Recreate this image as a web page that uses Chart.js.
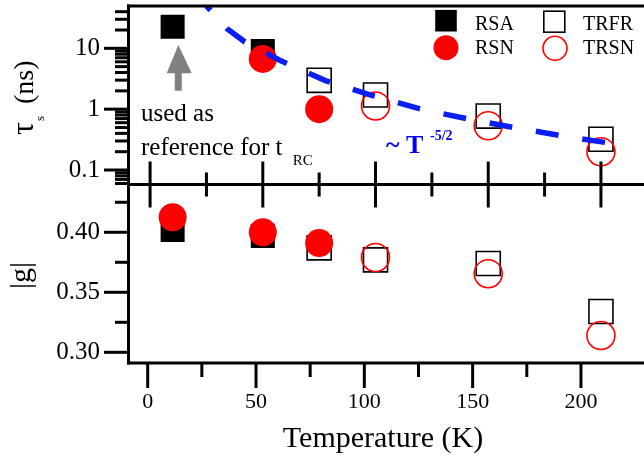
<!DOCTYPE html>
<html>
<head>
<meta charset="utf-8">
<script src="https://cdn.jsdelivr.net/npm/chart.js@4.4.1/dist/chart.umd.min.js"></script>
<style>
  html, body { margin: 0; padding: 0; background: #fff; overflow: hidden; }
  #wrap { width: 644px; height: 459px; }
</style>
</head>
<body>
<div id="wrap"><canvas id="spinChart" width="644" height="459"></canvas></div>
<script>
/*========================== Data ===================================================*/
const xTicks = [0, 50, 100, 150, 200]
const xMinor = [25, 75, 125, 175]
const tauTicks = [0.1, 1, 10]
const tauMinor = [0.06, 0.07, 0.08, 0.09, 0.2, 0.3, 0.4, 0.5, 0.6, 0.7, 0.8, 0.9,
                  2, 3, 4, 5, 6, 7, 8, 9, 20, 30, 40]
const gTicks = [0.30, 0.35, 0.40]
const gMinor = [0.325, 0.375, 0.425]

// top panel: tau_s (ns)
const tauT_RSA = [10, 50]
const tauRSA = [22.6, 9.0]
const tauT_RSN = [50, 75]
const tauRSN = [6.7, 1.0]
const tauT_TRFR = [75, 100, 150, 200]
const tauTRFR = [2.98, 1.71, 0.77, 0.32]
const tauT_TRSN = [100, 150, 200]
const tauTRSN = [1.13, 0.535, 0.20]

// dashed ~T^-5/2 guide, points read along the dashes
const fitT = [25, 34, 42, 57.3, 78, 98.3, 119.7, 141.6, 162.6, 184.1, 211.5]
const fitTau = [49.6, 21.3, 12.8, 6.42, 2.92, 1.69, 1.01, 0.684, 0.49, 0.358, 0.251]

// bottom panel: |g|
const gT_RSA = [10, 50]
const gRSA = [0.402, 0.397]
const gT_RSN = [10, 50, 75]
const gRSN = [0.4125, 0.400, 0.391]
const gT_TRFR = [75, 100, 150, 200]
const gTRFR = [0.387, 0.377, 0.374, 0.334]
const gT_TRSN = [100, 150, 200]
const gTRSN = [0.379, 0.3655, 0.314]

/*========================== Helpers =============================*/
const pts = (xs, ys) => xs.map((x, i) => ({x: x, y: ys[i]}))
const serif = '"Liberation Serif", "Times New Roman", serif'
Chart.defaults.font.family = serif
Chart.defaults.color = '#000'

const styleRSA = {pointStyle: 'rect', pointRadius: 17, backgroundColor: '#000', borderColor: '#000', borderWidth: 0, order: 2}
const styleTRFR = {pointStyle: 'rect', pointRadius: 17, backgroundColor: 'rgba(0,0,0,0)', borderColor: '#000', borderWidth: 1.6, order: 2}
const styleRSN = {pointStyle: 'circle', pointRadius: 14, backgroundColor: '#ff0000', borderColor: '#ff0000', borderWidth: 0, order: 1}
const styleTRSN = {pointStyle: 'circle', pointRadius: 14, backgroundColor: 'rgba(0,0,0,0)', borderColor: '#ff0000', borderWidth: 1.6, order: 1}

const hiddenTicks = {
    grid: {display: false},
    border: {display: false},
    ticks: {display: false}
}

/*========================== Frame, ticks, labels, legend =============================*/
const framePlugin = {
    id: 'frame',
    afterDraw(chart) {
        const ctx = chart.ctx
        const {left, right, top, bottom} = chart.chartArea
        const xs = chart.scales.x, xb = chart.scales.xb
        const yt = chart.scales.ytau, yg = chart.scales.yg
        const mid = yt.bottom
        const seg = (x1, y1, x2, y2) => { ctx.beginPath(); ctx.moveTo(x1, y1); ctx.lineTo(x2, y2); ctx.stroke() }
        const font = (px, w) => (w ? w + ' ' : '') + px + 'px ' + serif

        ctx.save()
        ctx.strokeStyle = '#000'
        ctx.lineWidth = 3
        // frame
        seg(left - 1, top, right, top)
        seg(left - 1, mid, right, mid)
        seg(left - 1, bottom, right, bottom)
        seg(left + 0.5, top - 1.5, left + 0.5, bottom + 1.5)

        // x ticks on the middle line (both sides)
        xTicks.forEach(v => { const p = xs.getPixelForValue(v); seg(p, mid - 23, p, mid + 23) })
        xMinor.forEach(v => { const p = xs.getPixelForValue(v); seg(p, mid - 12, p, mid + 12) })
        // x ticks on the bottom axis
        xTicks.forEach(v => { const p = xb.getPixelForValue(v); seg(p, bottom, p, bottom + 25) })
        xMinor.forEach(v => { const p = xb.getPixelForValue(v); seg(p, bottom, p, bottom + 14) })
        // y ticks
        tauTicks.forEach(v => { const p = yt.getPixelForValue(v); seg(left - 24, p, left, p) })
        tauMinor.forEach(v => { const p = yt.getPixelForValue(v); seg(left - 13, p, left, p) })
        gTicks.forEach(v => { const p = yg.getPixelForValue(v); seg(left - 24, p, left, p) })
        gMinor.forEach(v => { const p = yg.getPixelForValue(v); seg(left - 13, p, left, p) })

        ctx.fillStyle = '#000'
        // tick labels
        ctx.textAlign = 'right'
        ctx.textBaseline = 'middle'
        ctx.font = font(25)
        tauTicks.forEach(v => ctx.fillText(String(v), left - 28, yt.getPixelForValue(v)))
        gTicks.forEach(v => ctx.fillText(v.toFixed(2), left - 28, yg.getPixelForValue(v)))
        ctx.textAlign = 'center'
        ctx.textBaseline = 'alphabetic'
        ctx.font = font(22)
        xTicks.forEach(v => ctx.fillText(String(v), xb.getPixelForValue(v), 408.3))

        // x title
        ctx.font = font(30)
        ctx.fillText('Temperature (K)', 383, 446.5)

        // y title top: tau_s (ns)
        ctx.save()
        ctx.translate(33, 135)
        ctx.rotate(-Math.PI / 2)
        ctx.textAlign = 'left'
        ctx.font = font(32)
        ctx.fillText('\u03c4', 0, 0)
        ctx.font = font(13)
        ctx.fillText('s', 14, 11)
        ctx.font = font(28)
        ctx.fillText('(ns)', 31, 0)
        ctx.restore()

        // y title bottom: |g|
        ctx.save()
        ctx.translate(30, 275.5)
        ctx.rotate(-Math.PI / 2)
        ctx.textAlign = 'center'
        ctx.font = font(30)
        ctx.fillText('|g|', 0, 0)
        ctx.restore()

        // legend
        ctx.textAlign = 'left'
        ctx.font = font(20)
        ctx.fillRect(446 - 10.8, 20.7 - 10.8, 21.6, 21.6)
        ctx.fillText('RSA', 475, 30)
        ctx.lineWidth = 1.6
        ctx.strokeRect(554.3 - 10.5, 21.7 - 10.5, 21, 21)
        ctx.fillText('TRFR', 583, 30)
        ctx.fillStyle = '#ff0000'
        ctx.beginPath(); ctx.arc(446, 47.7, 12.5, 0, Math.PI * 2); ctx.fill()
        ctx.strokeStyle = '#ff0000'
        ctx.beginPath(); ctx.arc(555, 48.3, 12, 0, Math.PI * 2); ctx.stroke()
        ctx.fillStyle = '#000'
        ctx.fillText('RSN', 475, 53.5)
        ctx.fillText('TRSN', 583, 53.5)

        // annotation + grey arrow
        ctx.fillStyle = '#808080'
        ctx.beginPath()
        ctx.moveTo(178.3, 45)
        ctx.lineTo(191.7, 73.3)
        ctx.lineTo(181.8, 73.3)
        ctx.lineTo(181.8, 90.7)
        ctx.lineTo(174.8, 90.7)
        ctx.lineTo(174.8, 73.3)
        ctx.lineTo(166.7, 73.3)
        ctx.closePath()
        ctx.fill()
        ctx.fillStyle = '#000'
        ctx.font = font(25)
        ctx.fillText('used as', 141, 120.7)
        ctx.fillText('reference for t', 141, 155)
        ctx.font = font(15)
        ctx.fillText('RC', 292.7, 165)

        // power-law label
        ctx.fillStyle = '#0000ff'
        ctx.font = font(26, 'bold')
        ctx.fillText('~ T', 386, 152.7)
        ctx.font = font(14, 'bold')
        ctx.fillText('-5/2', 430, 139.5)
        ctx.restore()
    }
}

/*========================== Chart =============================*/
const dataSpin = {
    datasets: [
        {label: 'fit', data: pts(fitT, fitTau), yAxisID: 'ytau', showLine: true, pointRadius: 0,
         borderColor: '#0a1ef5', borderWidth: 5.5, borderDash: [23, 24], borderDashOffset: 17, order: 0},
        Object.assign({label: 'RSA', data: pts(tauT_RSA, tauRSA), yAxisID: 'ytau'}, styleRSA),
        Object.assign({label: 'RSN', data: pts(tauT_RSN, tauRSN), yAxisID: 'ytau'}, styleRSN),
        Object.assign({label: 'TRFR', data: pts(tauT_TRFR, tauTRFR), yAxisID: 'ytau'}, styleTRFR),
        Object.assign({label: 'TRSN', data: pts(tauT_TRSN, tauTRSN), yAxisID: 'ytau'}, styleTRSN),
        Object.assign({label: 'RSA', data: pts(gT_RSA, gRSA), yAxisID: 'yg'}, styleRSA),
        Object.assign({label: 'RSN', data: pts(gT_RSN, gRSN), yAxisID: 'yg'}, styleRSN),
        Object.assign({label: 'TRFR', data: pts(gT_TRFR, gTRFR), yAxisID: 'yg'}, styleTRFR),
        Object.assign({label: 'TRSN', data: pts(gT_TRSN, gTRSN), yAxisID: 'yg'}, styleTRSN)
    ]
}

const configSpin = {
    type: 'scatter',
    data: dataSpin,
    options: {
        responsive: false,
        animation: false,
        devicePixelRatio: 1,
        events: [],
        layout: {autoPadding: false, padding: {top: 6, left: 0, right: 0, bottom: 0}},
        plugins: {legend: {display: false}, tooltip: {enabled: false}},
        scales: {
            x: {
                type: 'linear', position: 'bottom', display: false,
                min: -9.8, max: 219.1
            },
            xb: Object.assign({
                type: 'linear', position: 'bottom', axis: 'x',
                min: -9.09, max: 229.1,
                afterFit(scale) { scale.height = 96 }
            }, hiddenTicks),
            yg: Object.assign({
                type: 'linear', position: 'left', stack: 'panels', stackWeight: 1,
                min: 0.2911, max: 0.4398,
                afterFit(scale) { scale.width = 128 }
            }, hiddenTicks),
            ytau: Object.assign({
                type: 'logarithmic', position: 'left', stack: 'panels', stackWeight: 1,
                min: 0.0578, max: 49.6,
                afterFit(scale) { scale.width = 128 }
            }, hiddenTicks)
        }
    },
    plugins: [framePlugin]
}

const spinChart = new Chart(document.getElementById('spinChart'), configSpin)
</script>
</body>
</html>
